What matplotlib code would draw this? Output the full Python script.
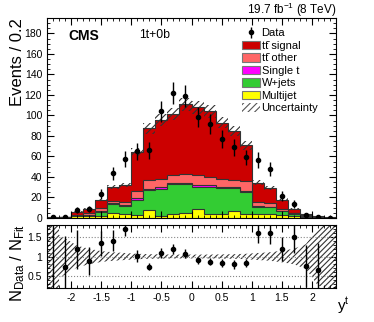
import matplotlib
matplotlib.use("Agg")
import matplotlib.pyplot as plt
import numpy as np
from matplotlib.patches import Patch
from matplotlib.ticker import MultipleLocator

plt.rcParams['font.family'] = ['Liberation Sans', 'DejaVu Sans']
plt.rcParams['mathtext.fontset'] = 'custom'
plt.rcParams['mathtext.rm'] = 'Liberation Sans'
plt.rcParams['mathtext.it'] = 'Liberation Sans:italic'
plt.rcParams['hatch.linewidth'] = 0.8

# bins in top-quark rapidity
edges = np.round(np.arange(-2.4, 2.41, 0.2), 2)
centers = (edges[:-1] + edges[1:]) / 2

# stacked components (events per bin)
multijet = [0.1, 0.3, 1.5, 1.5, 2.0, 5.0, 4.0, 3.0, 8.0, 2.0, 4.0, 5.0,
            8.5, 4.0, 4.0, 6.5, 4.0, 4.0, 4.0, 3.0, 1.5, 1.0, 0.3, 0.1]
wjets = [0.1, 0.2, 0.5, 1.0, 4.0, 9.0, 8.0, 15.0, 19.0, 26.0, 29.0, 28.0,
         21.5, 26.0, 25.0, 22.5, 21.0, 7.0, 6.5, 3.5, 2.5, 1.0, 0.3, 0.1]
single_t = [0.1, 0.1, 0.3, 0.3, 0.8, 0.8, 0.8, 1.5, 1.7, 2.0, 1.5, 1.0,
            2.5, 2.0, 1.5, 1.5, 1.0, 0.8, 0.7, 0.5, 0.4, 0.2, 0.2, 0.1]
tt_other = [0.1, 0.2, 0.7, 1.7, 3.2, 2.2, 2.8, 7.2, 8.1, 8.4, 7.2, 8.7,
            9.2, 7.7, 7.9, 6.5, 10.5, 3.8, 3.1, 2.0, 0.6, 0.3, 0.2, 0.1]
tt_signal = [0.1, 0.2, 3.0, 4.5, 7.6, 13.0, 16.4, 37.3, 50.8, 57.4, 59.9, 68.0,
             66.3, 64.3, 54.6, 48.0, 34.2, 18.9, 15.0, 9.0, 3.8, 1.5, 0.5, 0.1]
unc_frac = 0.06

data = [1, 1, 8, 8.5, 23.5, 43.6, 57.7, 65, 66, 104, 122, 119,
        98.4, 91.9, 77, 69, 59, 56.7, 48, 21.5, 13.7, 3, 1, 0]

# ratio panel
ratio = [2.6, 0.72, 1.19, 0.89, 1.34, 1.41, 1.72, 1.01, 0.74, 1.08, 1.19, 1.07,
         0.90, 0.87, 0.83, 0.80, 0.83, 1.61, 1.60, 1.20, 1.50, 0.76, 0.64, np.nan]
ratio_err = [2.6, 0.80, 0.50, 0.36, 0.33, 0.27, 0.20, 0.15, 0.10, 0.13, 0.13, 0.12,
             0.10, 0.10, 0.10, 0.11, 0.11, 0.25, 0.27, 0.31, 0.42, 0.55, 0.70, np.nan]
band_x = [-2.4, -2.2, -2.2, -2.1, -1.9, -1.7, -1.5, -1.3, -1.1, -0.9, -0.7, -0.5, -0.3,
          -0.1, 0.1, 0.3, 0.5, 0.7, 0.9, 1.1, 1.3, 1.5, 1.7, 1.9, 2.1, 2.2, 2.2, 2.4]
band_hw = [1.0, 1.0, 0.55, 0.47, 0.28, 0.2, 0.14, 0.11, 0.09, 0.07, 0.06, 0.055, 0.05,
           0.05, 0.05, 0.05, 0.055, 0.06, 0.07, 0.09, 0.11, 0.15, 0.2, 0.32, 0.75, 0.8, 1.0, 1.0]

fig = plt.figure(figsize=(3.74, 3.22), dpi=100)
ax = fig.add_axes([0.1257, 0.323, 0.7727, 0.621])
rax = fig.add_axes([0.1257, 0.106, 0.7727, 0.196])

layers = [("Multijet", multijet, "#ffff00"),
          ("W+jets", wjets, "#33cc33"),
          ("Single t", single_t, "#ff00ff"),
          ("tt\u0304 other", tt_other, "#ff6666"),
          ("tt\u0304 signal", tt_signal, "#cc0000")]

cum = np.cumsum([np.array(v) for _, v, _ in layers], axis=0)
for i in range(len(layers) - 1, -1, -1):
    ax.stairs(cum[i], edges, fill=True, color=layers[i][2], lw=0)
    ax.stairs(cum[i], edges, color="#333333", lw=0.8)

total = cum[-1]
ax.stairs(total * (1 + unc_frac), edges, baseline=total * (1 - unc_frac), fill=True,
          facecolor="none", edgecolor="#333333", hatch="/////", lw=0)

data = np.array(data)
err = np.sqrt(data)
dat = ax.errorbar(centers, data, yerr=err, fmt="o", color="black", ms=3, elinewidth=1,
                  capsize=0)

ax.set_xlim(-2.4, 2.4)
ax.set_ylim(0, 195)
ax.yaxis.set_major_locator(MultipleLocator(20))
ax.yaxis.set_minor_locator(MultipleLocator(5))
ax.xaxis.set_major_locator(MultipleLocator(0.5))
ax.xaxis.set_minor_locator(MultipleLocator(0.1))
ax.tick_params(which="both", direction="in", top=True, right=True, labelsize=7.5)
ax.tick_params(which="major", length=5)
ax.tick_params(which="minor", length=2.5)
ax.tick_params(axis="x", labelbottom=False)
ax.set_ylabel("Events / 0.2", loc="top", fontsize=12)
ax.yaxis.set_label_coords(-0.075, 1.0)

ax.text(0.073, 0.91, "CMS", transform=ax.transAxes, fontsize=10, fontweight="bold",
        va="center")
ax.text(0.32, 0.915, "1t+0b", transform=ax.transAxes, fontsize=8.8, va="center")
fig.text(0.9, 0.958, r"19.7 fb$^{-1}$ (8 TeV)", fontsize=8.5, ha="right", va="baseline")

handles = [dat]
labels = ["Data"]
for name, _, c in layers[::-1]:
    handles.append(Patch(facecolor=c, edgecolor="#777777", lw=0.8))
    labels.append(name)
handles.append(Patch(facecolor="none", edgecolor="#555555", hatch="/////", lw=0))
labels.append("Uncertainty")
ax.legend(handles, labels, loc="upper left", bbox_to_anchor=(0.675, 0.95), frameon=False,
          fontsize=8, handlelength=1.6, handleheight=0.85, handletextpad=0.15,
          labelspacing=0.2, borderpad=0.0, borderaxespad=0)

# ratio panel
rax.fill_between(band_x, 1 - np.array(band_hw), 1 + np.array(band_hw), facecolor="none",
                 edgecolor="#333333", hatch="//////", lw=0)
rax.axhline(0.5, color="#888888", ls=":", lw=0.8)
rax.axhline(1.5, color="#888888", ls=":", lw=0.8)
rax.axhline(1.0, color="#888888", ls=":", lw=0.8)
rax.errorbar(centers, ratio, yerr=ratio_err, fmt="o", color="black", ms=3, elinewidth=1,
             capsize=0)
rax.set_xlim(-2.4, 2.4)
rax.set_ylim(0.19, 1.82)
rax.set_yticks([0.5, 1, 1.5])
rax.set_yticklabels(["0.5", "1", "1.5"])
rax.yaxis.set_minor_locator(MultipleLocator(0.1))
rax.xaxis.set_minor_locator(MultipleLocator(0.1))
rax.set_xticks([-2, -1.5, -1, -0.5, 0, 0.5, 1, 1.5, 2])
rax.set_xticklabels(["-2", "-1.5", "-1", "-0.5", "0", "0.5", "1", "1.5", "2"])
rax.tick_params(which="both", direction="in", top=True, right=True, labelsize=7.5)
rax.tick_params(which="major", length=5)
rax.tick_params(which="minor", length=2.5)
rax.set_ylabel(r"N$_{\mathrm{Data}}$ / N$_{\mathrm{Fit}}$", fontsize=12)
rax.yaxis.set_label_coords(-0.068, 0.4)
fig.text(0.917, 0.05, r"y$^{\mathrm{t}}$", fontsize=11, ha="center", va="center")

fig.savefig("out.png", dpi=100)
